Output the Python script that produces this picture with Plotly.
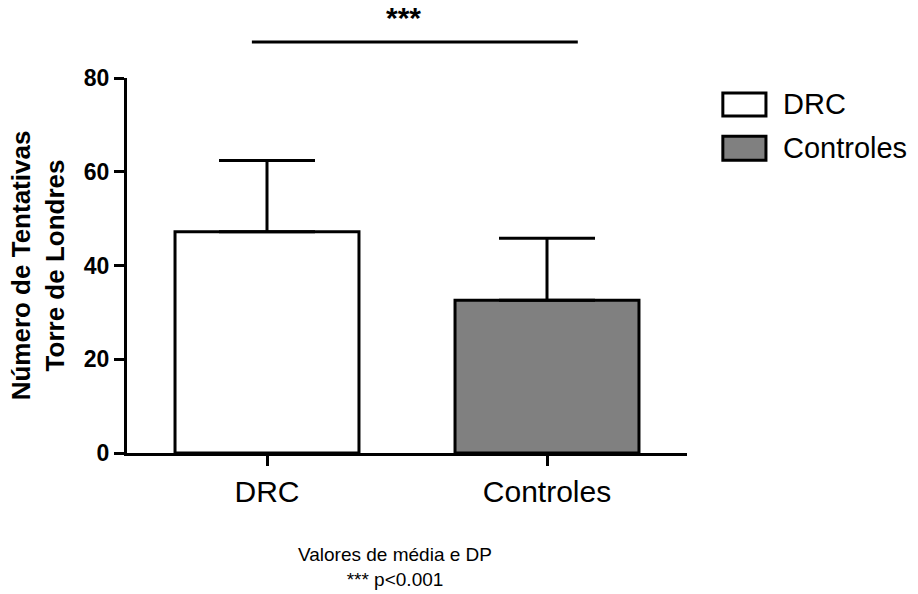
import plotly.graph_objects as go

categories = ["DRC", "Controles"]
means = [47.2, 32.6]
sds = [15.2, 13.2]
fill_colors = ["#ffffff", "#808080"]
y_ticks = [0, 20, 40, 60, 80]
y_title = "<b>Número de Tentativas<br>Torre de Londres</b>"
footnote = "Valores de média e DP<br>*** p<0.001"
sig_label = "<b>***</b>"

FONT = "Liberation Sans, Arial, sans-serif"

fig = go.Figure()
fig.add_trace(go.Bar(
    x=categories, y=means,
    marker=dict(color=fill_colors, line=dict(color="black", width=3)),
    error_y=dict(type="data", symmetric=False, array=sds, arrayminus=[0] * len(sds),
                 color="black", thickness=3, width=48),
    width=0.657,
    showlegend=False,
))

# significance bracket
fig.add_shape(type="line", xref="paper", yref="paper", x0=0.223, x1=0.805, y0=1.096, y1=1.096,
              line=dict(color="black", width=3))
fig.add_annotation(text=sig_label, xref="paper", yref="paper", x=0.493, y=1.162,
                   showarrow=False, font=dict(family=FONT, size=30, color="black"),
                   xanchor="center", yanchor="middle")

# custom legend
legend_rows = [(0.96, 0.899), (0.845, 0.781)]
for (y1, y0), name, col in zip(legend_rows, categories, fill_colors):
    fig.add_shape(type="rect", xref="paper", yref="paper", x0=1.064, x1=1.141, y0=y0, y1=y1,
                  line=dict(color="black", width=3), fillcolor=col)
    fig.add_annotation(text=name, xref="paper", yref="paper", x=1.168, y=(y0 + y1) / 2,
                       showarrow=False, xanchor="left", yanchor="middle",
                       font=dict(family=FONT, size=29, color="black"))

fig.add_annotation(text=footnote, xref="paper", yref="paper", x=0.479, y=-0.304,
                   showarrow=False, xanchor="center", yanchor="middle",
                   font=dict(family=FONT, size=19, color="black"))

fig.update_layout(
    width=918, height=594,
    margin=dict(l=127, r=231, t=78, b=141),
    plot_bgcolor="white", paper_bgcolor="white",
    font=dict(family=FONT, color="black"),
    bargap=0.343,
)
fig.update_xaxes(
    range=[-0.5, 1.5], showline=True, linecolor="black", linewidth=3,
    ticks="outside", ticklen=10, tickwidth=3, tickcolor="black",
    tickfont=dict(family=FONT, size=30, color="black"), showgrid=False, zeroline=False,
)
fig.update_yaxes(
    range=[0, 80], tickvals=y_ticks, showline=True, linecolor="black", linewidth=3,
    ticks="outside", ticklen=10, tickwidth=3, tickcolor="black",
    tickfont=dict(family=FONT, size=23, color="black", weight="bold"),
    showgrid=False, zeroline=False,
    title=dict(text=y_title, font=dict(family=FONT, size=26, color="black"), standoff=12),
)

fig.write_html("out.html")
